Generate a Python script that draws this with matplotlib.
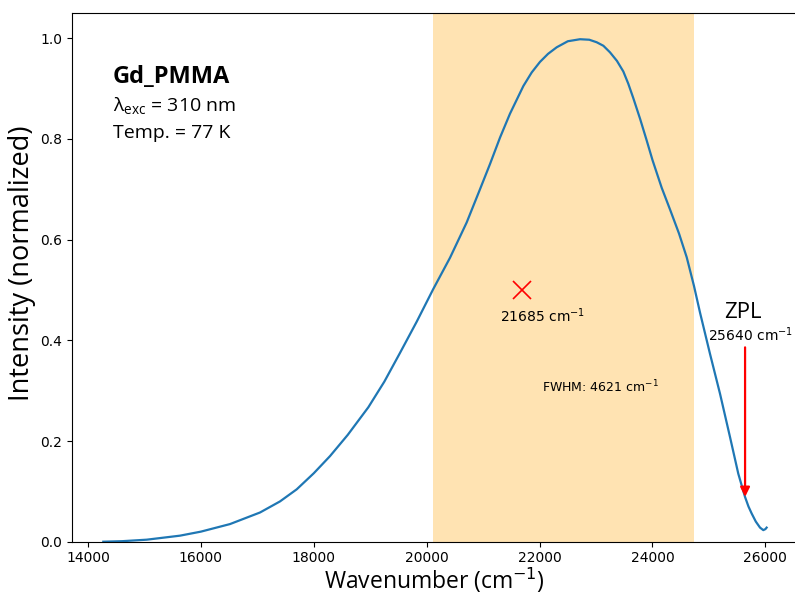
import matplotlib
matplotlib.use("Agg")
import matplotlib.pyplot as plt

# emission spectrum, normalized
wavenumber = [14271, 14600, 15040, 15630, 16000, 16515, 17047, 17401, 17697,
              18000, 18287, 18600, 18966, 19250, 19527, 19823, 20117, 20413,
              20708, 20944, 21121, 21300, 21475, 21712, 21860, 22007, 22150,
              22303, 22500, 22716, 22880, 23011, 23130, 23247, 23370, 23483,
              23570, 23660, 23780, 23897, 24000, 24074, 24163, 24310, 24470,
              24606, 24735, 24842, 25019, 25196, 25373, 25520, 25639, 25700,
              25757, 25830, 25905, 25963, 26000, 26022]
intensity = [0.000, 0.001, 0.004, 0.012, 0.020, 0.035, 0.058, 0.080, 0.104,
             0.136, 0.170, 0.212, 0.267, 0.318, 0.375, 0.437, 0.502, 0.564,
             0.634, 0.700, 0.750, 0.803, 0.850, 0.905, 0.932, 0.953, 0.969,
             0.982, 0.994, 0.998, 0.997, 0.992, 0.985, 0.972, 0.955, 0.934,
             0.910, 0.881, 0.840, 0.797, 0.758, 0.733, 0.703, 0.660, 0.612,
             0.565, 0.508, 0.455, 0.373, 0.294, 0.208, 0.135, 0.089, 0.070,
             0.056, 0.040, 0.028, 0.023, 0.025, 0.028]

fwhm_low, fwhm_high = 20117, 24738
fwhm = 4621
center = 21685
zpl = 25640
zpl_y = 0.089

sample = "Gd_PMMA"
excitation = 310
temperature = 77

fig = plt.figure(figsize=(7.95, 5.95), dpi=100)
ax = fig.add_axes([71.7 / 795, 1 - 541.7 / 595, (797 - 71.7) / 795, (541.7 - 13.3) / 595])

ax.axvspan(fwhm_low, fwhm_high, color="orange", alpha=0.3, lw=0)
ax.plot(wavenumber, intensity, color="#1f77b4", lw=1.6)
ax.plot(center, 0.5, "x", color="red", ms=13, mew=1.2)

ax.text(center + 370, 0.449, f"{center} cm$^{{-1}}$", ha="center", va="center", fontsize=10)
ax.text(23070, 0.308, f"FWHM: {fwhm} cm$^{{-1}}$", ha="center", va="center", fontsize=9)
ax.text(zpl - 40, 0.455, "ZPL", ha="center", va="center", fontsize=16, family="Open Sans")
ax.text(zpl + 96, 0.411, f"{zpl} cm$^{{-1}}$", ha="center", va="center", fontsize=10)
ax.annotate("", xy=(zpl, zpl_y), xytext=(zpl, 0.386),
            arrowprops=dict(arrowstyle="-|>", color="red", lw=1.6, mutation_scale=14,
                            shrinkA=0, shrinkB=0))

ax.text(0.057, 0.880, sample, transform=ax.transAxes, va="center", fontsize=17,
        fontweight="bold", family="Open Sans")
ax.text(0.057, 0.8246, "λ$_{\\mathregular{exc}}$ = %d nm" % excitation, transform=ax.transAxes,
        va="center", fontsize=14, family="Open Sans")
ax.text(0.057, 0.774, f"Temp. = {temperature} K", transform=ax.transAxes, va="center",
        fontsize=14, family="Open Sans")

ax.set_xlim(13711, 26560)
ax.set_ylim(0, 1.0495)
ax.set_xticks([14000, 16000, 18000, 20000, 22000, 24000, 26000])
ax.set_yticks([0.0, 0.2, 0.4, 0.6, 0.8, 1.0])
ax.set_xlabel("Wavenumber (cm$^{-1}$)", fontsize=16.5, family="Open Sans", labelpad=0.5)
ax.set_ylabel("Intensity (normalized)", fontsize=19.5, family="Open Sans")
ax.yaxis.set_label_coords(-0.049, 0.527)

fig.savefig("out.png", dpi=100)
